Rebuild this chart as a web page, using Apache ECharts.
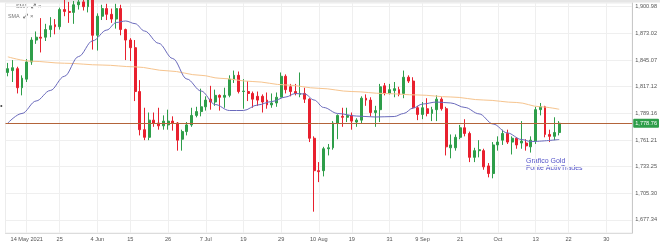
<!DOCTYPE html>
<html><head><meta charset="utf-8">
<script src="https://cdn.jsdelivr.net/npm/echarts@6/dist/echarts.min.js"></script>
<style>html,body{margin:0;padding:0;background:#fff}#c{width:660px;height:248px}</style>
</head><body><div id="c"></div>
<script>
// ---- categories: trading days, then future calendar days ----
const categories = [
'2021-05-10','2021-05-11','2021-05-12','2021-05-13','2021-05-14','2021-05-17','2021-05-18','2021-05-19','2021-05-20','2021-05-21',
'2021-05-24','2021-05-25','2021-05-26','2021-05-27','2021-05-28','2021-05-31','2021-06-01','2021-06-02','2021-06-03','2021-06-04',
'2021-06-07','2021-06-08','2021-06-09','2021-06-10','2021-06-11','2021-06-14','2021-06-15','2021-06-16','2021-06-17','2021-06-18',
'2021-06-21','2021-06-22','2021-06-23','2021-06-24','2021-06-25','2021-06-28','2021-06-29','2021-06-30','2021-07-01','2021-07-02',
'2021-07-05','2021-07-06','2021-07-07','2021-07-08','2021-07-09','2021-07-12','2021-07-13','2021-07-14','2021-07-15','2021-07-16',
'2021-07-19','2021-07-20','2021-07-21','2021-07-22','2021-07-23','2021-07-26','2021-07-27','2021-07-28','2021-07-29','2021-07-30',
'2021-08-02','2021-08-03','2021-08-04','2021-08-05','2021-08-06','2021-08-09','2021-08-10','2021-08-11','2021-08-12','2021-08-13',
'2021-08-16','2021-08-17','2021-08-18','2021-08-19','2021-08-20','2021-08-23','2021-08-24','2021-08-25','2021-08-26','2021-08-27',
'2021-08-30','2021-08-31','2021-09-01','2021-09-02','2021-09-03','2021-09-06','2021-09-07','2021-09-08','2021-09-09','2021-09-10',
'2021-09-13','2021-09-14','2021-09-15','2021-09-16','2021-09-17','2021-09-20','2021-09-21','2021-09-22','2021-09-23','2021-09-24',
'2021-09-27','2021-09-28','2021-09-29','2021-09-30','2021-10-01','2021-10-04','2021-10-05','2021-10-06','2021-10-07','2021-10-08',
'2021-10-11','2021-10-12','2021-10-13','2021-10-14','2021-10-15','2021-10-18','2021-10-19','2021-10-20',
'2021-10-21','2021-10-22','2021-10-23','2021-10-24','2021-10-25','2021-10-26','2021-10-27','2021-10-28','2021-10-29','2021-10-30',
'2021-10-31','2021-11-01','2021-11-02','2021-11-03','2021-11-04'
];

// ---- OHLC (one value per trading day) ----
const openP = [
1832,1834,1836,1816,1825,1843,1866,1869,1869,1877,
1882,1880,1898,1896,1895,1903,1906,1901,1908,1871,
1891,1899,1893,1888,1899,1877,1866,1858,1812,1772,
1764,1782,1779,1776,1777,1781,1779,1762,1770,1777,
1787,1791,1796,1804,1801,1808,1806,1808,1825,1829,
1812,1812,1810,1807,1807,1803,1798,1800,1806,1828,
1817,1812,1809,1810,1804,1763,1729,1729,1752,1753,
1779,1786,1785,1787,1780,1782,1805,1803,1790,1793,
1818,1810,1813,1814,1810,1827,1823,1795,1788,1794,
1789,1793,1804,1794,1753,1753,1764,1774,1768,1743,
1750,1750,1734,1726,1756,1761,1768,1759,1763,1758,
1758,1754,1760,1793,1796,1767,1765,1769
];
const closeP = [
1836,1837,1816,1826,1843,1866,1869,1868,1877,1881,
1880,1898,1896,1895,1903,1906,1901,1908,1871,1891,
1899,1893,1888,1899,1877,1866,1858,1812,1772,1764,
1782,1779,1776,1781,1781,1779,1761,1770,1777,1787,
1791,1796,1803,1801,1808,1806,1808,1825,1829,1812,
1812.5,1810,1804,1803,1801,1798,1800,1806,1828,1814,
1812,1810,1810,1804,1763,1729,1728,1752,1753,1779,
1787,1785,1787,1781,1782,1805,1803,1790,1792,1817,
1810,1814,1815,1809,1827,1823,1795,1788,1795,1789,
1793,1804,1794,1754,1756,1764,1774,1768,1743,1750,
1751,1733,1726,1756,1759,1768,1759,1763,1756,1760,
1755,1761,1793,1796,1767,1765,1769,1778.76
];
const lowP = [
1828,1822,1810,1808,1822,1840,1862,1853,1865,1869,
1872,1877,1891,1884,1883,1898,1897,1895,1856,1855,
1887,1887,1884,1878,1871,1845,1844,1802,1766,1761,
1761,1775,1772,1772,1772,1771,1750,1750,1766,1775,
1785,1786,1792,1793,1797,1792,1795,1806,1821,1810,
1794,1802,1795,1797,1790,1794,1795,1796,1806,1810,
1807,1808,1806,1800,1759,1686,1717,1723,1745,1751,
1762,1775,1780,1772,1775,1779,1797,1786,1775,1780,
1808,1809,1806,1807,1805,1821,1794,1782,1783,1786,
1781,1781,1792,1745,1742,1750,1762,1765,1738,1738,
1743,1730,1722,1721,1750,1756,1757,1746,1752,1752,
1750,1748,1757,1787,1764,1759,1761,1766
];
const highP = [
1842,1845,1838,1829,1846,1869,1875,1889,1883,1890,
1888,1900,1913,1906,1907,1911,1917,1911,1909,1894,
1903,1904,1899,1904,1903,1878,1868,1866,1824,1795,
1790,1790,1795,1787,1793,1786,1780,1772,1780,1795,
1796,1815,1807,1818,1814,1809,1816,1829,1834,1833,
1825,1823,1812,1812,1809,1811,1810,1811,1832,1830,
1820,1820,1832,1816,1805,1765,1738,1754,1757,1781,
1788,1795,1795,1790,1784,1807,1809,1806,1797,1820,
1821,1820,1822,1817,1834,1829,1827,1797,1801,1805,
1796,1808,1806,1796,1767,1767,1777,1783,1770,1753,
1761,1752,1737,1759,1765,1772,1772,1765,1764,1781,
1762,1765,1796,1800,1797,1772,1785,1781
];

// ---- SMA overlays ----
const smaFast = [
['2021-05-10',1779.0],['2021-05-13',1789.0],['2021-05-18',1802.1],['2021-05-21',1813.1],['2021-05-26',1828.0],
['2021-05-31',1848.7],['2021-06-03',1865.2],['2021-06-08',1876.5],['2021-06-10',1884.4],['2021-06-14',1886.0],
['2021-06-16',1883.2],['2021-06-18',1875.5],['2021-06-23',1862.6],['2021-06-28',1846.6],['2021-07-01',1825.1],
['2021-07-06',1812.6],['2021-07-09',1798.4],['2021-07-14',1792.1],['2021-07-19',1792.1],['2021-07-22',1797.9],
['2021-07-27',1801.5],['2021-07-30',1806.3],['2021-08-03',1809.9],['2021-08-05',1809.4],['2021-08-09',1803.1],
['2021-08-11',1795.3],['2021-08-16',1789.0],['2021-08-20',1786.3],['2021-08-26',1785.3],['2021-09-01',1785.8],
['2021-09-03',1789.0],['2021-09-07',1794.7],['2021-09-09',1798.9],['2021-09-14',1801.0],['2021-09-17',1800.0],
['2021-09-22',1795.3],['2021-09-27',1788.6],['2021-09-30',1777.9],['2021-10-05',1768.6],['2021-10-08',1761.7],
['2021-10-12',1759.6],['2021-10-20',1761.7]
];
const smaSlow = [
['2021-05-10',1848.4],['2021-05-17',1843.8],['2021-05-26',1841.7],['2021-06-07',1839.8],['2021-06-16',1837.9],
['2021-06-25',1833.7],['2021-07-06',1829.0],['2021-07-12',1825.9],['2021-07-21',1822.5],['2021-07-30',1818.9],
['2021-08-10',1815.4],['2021-08-19',1812.0],['2021-08-30',1809.9],['2021-09-08',1808.4],['2021-09-17',1806.3],
['2021-09-28',1803.1],['2021-10-07',1800.5],['2021-10-14',1796.0],['2021-10-20',1793.4]
];

const lastPrice = 1778.76;
const yTicks = [1677.34,1705.30,1733.25,1761.21,1789.16,1817.12,1845.07,1873.02,1900.98];
const xTickDates = ['2021-05-14','2021-05-25','2021-06-04','2021-06-15','2021-06-25','2021-07-07','2021-07-19','2021-07-29',
  '2021-08-10','2021-08-19','2021-08-31','2021-09-09','2021-09-21','2021-10-01','2021-10-13','2021-10-22','2021-10-30'];
const xTickTexts = ['14 May 2021','25','4 Jun','15','26','7 Jul','19','29','10 Aug','19','31','9 Sep','21','Oct','13','22','30'];

// ---- build ----
const FONT = 'Liberation Sans';
const UP = '#2e9e4a', DOWN = '#e8202e';
function fmt(v){ const s = v.toFixed(2).split('.'); return s[0].replace(/\B(?=(\d{3})+(?!\d))/g, ',') + '.' + s[1]; }
const candles = openP.map((o,i)=>[o, closeP[i], lowP[i], highP[i]]);
const toXY = arr => arr.map(p=>[categories.indexOf(p[0]), p[1]]);
const isTick = (i, v) => xTickDates.indexOf(v) >= 0;

const chart = echarts.init(document.getElementById('c'), null, {renderer:'canvas'});
chart.setOption({
  animation:false,
  backgroundColor:'#fff',
  grid:{left:5.5, right:26, top:3, bottom:15, show:true, borderWidth:1, borderColor:'#ececec', backgroundColor:'transparent'},
  xAxis:{
    type:'category', data:categories, boundaryGap:true,
    axisLine:{show:true, lineStyle:{color:'#dcdcdc'}},
    axisTick:{show:false, alignWithLabel:true, interval:isTick},
    axisLabel:{interval:isTick, formatter:v=>xTickTexts[xTickDates.indexOf(v)], fontSize:5.6, color:'#555', margin:3, fontFamily:FONT},
    splitLine:{show:true, interval:isTick, alignWithLabel:true, lineStyle:{color:'#efefef', width:1}}
  },
  yAxis:{
    type:'value', position:'right', min:1663.64, max:1904.86, scale:true,
    axisLine:{show:true, lineStyle:{color:'#c8c8c8'}},
    axisTick:{show:false, customValues:yTicks},
    axisLabel:{customValues:yTicks, formatter:v=>fmt(v), fontSize:5.6, color:'#555', margin:3, fontFamily:FONT},
    splitLine:{show:true, lineStyle:{color:'#efefef', width:1}}
  },
  series:[
    {
      type:'candlestick', data:candles, barWidth:2.4, clip:true,
      itemStyle:{color:UP, color0:DOWN, borderColor:UP, borderColor0:DOWN, borderWidth:1},
      markLine:{
        silent:true, animation:false, symbol:['none','none'],
        data:[{yAxis:lastPrice, lineStyle:{color:'#b3643a', width:1, type:'solid', opacity:1}}],
        lineStyle:{color:'#b3643a', width:1, type:'solid', opacity:1},
        label:{show:true, position:'end', formatter:()=>fmt(lastPrice), backgroundColor:UP, color:'#fff',
               fontSize:5.6, fontFamily:FONT, padding:[1.5,2,1.5,2], borderRadius:1, distance:1}
      },
      z:2
    },
    {
      type:'line', data:toXY(smaSlow), symbol:'none', smooth:0.35, smoothMonotone:'x',
      lineStyle:{color:'#f6c48e', width:1}, z:3, silent:true
    },
    {
      type:'line', data:toXY(smaFast), symbol:'none', smooth:0.35, smoothMonotone:'x',
      lineStyle:{color:'#6a6abc', width:1}, z:4, silent:true
    }
  ],
  graphic:[
    {type:'rect', shape:{x:0,y:0,width:660,height:2.5}, style:{fill:'#e6e6e6'}, silent:true},
    {type:'text', x:10, y:6.5, style:{text:'–', fill:'#888', font:'6px '+FONT, textVerticalAlign:'middle'}},
    {type:'text', x:16, y:6.5, style:{text:'SMA', fill:'#777', font:'5.4px '+FONT, textVerticalAlign:'middle'}},
    {type:'text', x:30.5, y:6.5, style:{text:'⤢', fill:'#555', font:'bold 6px DejaVu Sans', textVerticalAlign:'middle'}},
    {type:'text', x:38, y:6.5, style:{text:'×', fill:'#777', font:'6px '+FONT, textVerticalAlign:'middle'}},
    {type:'text', x:8, y:16.5, style:{text:'SMA', fill:'#777', font:'5.4px '+FONT, textVerticalAlign:'middle'}},
    {type:'text', x:22.5, y:16.5, style:{text:'⤢', fill:'#555', font:'bold 6px DejaVu Sans', textVerticalAlign:'middle'}},
    {type:'text', x:30, y:16.5, style:{text:'×', fill:'#777', font:'6px '+FONT, textVerticalAlign:'middle'}},
    {type:'circle', shape:{cx:1.3, cy:106, r:1}, style:{fill:'#444'}, silent:true},
    {type:'text', x:526, y:161, style:{text:'Grafico Gold', fill:'#5252c8', font:'7px '+FONT, textVerticalAlign:'middle'}},
    {type:'text', x:526, y:168.4, style:{text:'Fonte ActivTrades', fill:'#5252c8', font:'7px '+FONT, textVerticalAlign:'middle'}}
  ]
});
</script>
</body></html>
